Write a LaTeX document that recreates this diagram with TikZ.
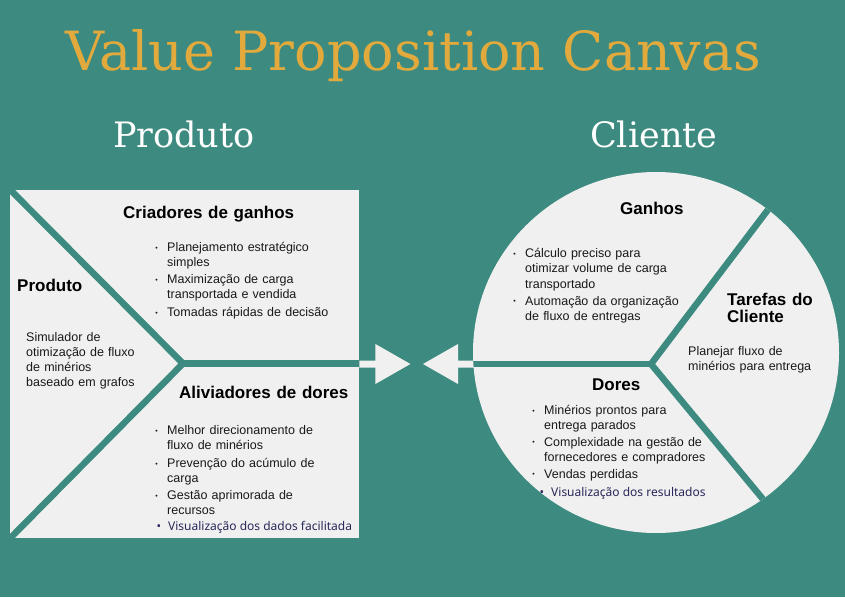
\documentclass[tikz,border=0pt]{standalone}
\usepackage{fontspec}
\setmainfont{Liberation Sans}
\newfontfamily\titlefont{DejaVu Serif}
\newfontfamily\vizfont{Noto Sans}
\usetikzlibrary{calc,shapes.geometric}
\definecolor{vpteal}{HTML}{3D8B80}
\definecolor{vplight}{HTML}{F0F0F0}
\definecolor{vpgold}{HTML}{E2AA3C}
\definecolor{vpnavy}{HTML}{27275A}
\newcommand\sbul{\leavevmode\llap{\raisebox{1.5pt}{\fontsize{7}{7}\selectfont •}\hspace{9.5pt}}}
\newcommand\bbul{\leavevmode\llap{•\hspace{7pt}}}
\begin{document}
\begin{tikzpicture}[x=1pt,y=-1pt,
  heading/.style={anchor=base west, inner sep=0pt, font=\bfseries\fontsize{17}{17}\selectfont, text=black, align=left, text width=240pt},
  body/.style={anchor=base west, inner sep=0pt, font=\fontsize{12.5}{15}\selectfont, text=black!90, align=left, text width=220pt},
  viz/.style={anchor=base west, inner sep=0pt, font=\vizfont\fontsize{12}{15}\selectfont, text=vpnavy},
  bigtitle/.style={anchor=base west, inner sep=0pt, font=\titlefont\fontsize{54}{60}\selectfont, text=vpgold},
  sidetitle/.style={anchor=base west, inner sep=0pt, font=\titlefont\fontsize{35}{40}\selectfont, text=white},
  sep/.style={draw=vpteal, line width=6.5pt},
  pointer/.style={fill=vplight}]
\fill[vpteal] (0,0) rectangle (845,597);
\useasboundingbox (0,0) rectangle (845,597);

\node[bigtitle] (title) at (65,70) {Value Proposition Canvas};
\node[sidetitle] (lprod) at (113,147) {Produto};
\node[sidetitle] (lcli) at (590,147) {Cliente};

% product box
\node[fill=vplight, minimum width=349pt, minimum height=348.5pt, inner sep=0pt, anchor=north west] (pbox) at (10,189.5) {};
\coordinate (pv) at (183,363.5);
\draw[sep] (pbox.north west) -- (pv) -- (pbox.south west);
\draw[sep] (pv) -- (pv -| pbox.east);

% arrows
\coordinate (la) at (pbox.east |- 0,364);
\coordinate (ra) at (477,364);
\fill[pointer] (la) ++(0,-3.5) -- ++(16,0) -- ++(0,-16.5) -- ++(35,20) -- ++(-35,20) -- ++(0,-16.5) -- ++(-16,0) -- cycle;
\fill[pointer] (ra) ++(0,-3.5) -- ++(-19,0) -- ++(0,-16.5) -- ++(-35,20) -- ++(35,20) -- ++(0,-16.5) -- ++(19,0) -- cycle;

% customer circle
\node[ellipse, fill=vplight, minimum width=366pt, minimum height=361pt, inner sep=0pt] (cc) at (656,352.5) {};
\coordinate (cv) at (651,364);
\begin{scope}
  \clip (cc.center) ellipse[x radius=183pt, y radius=180.5pt];
  \draw[sep] (cv) -- ++(-200,0);
  \draw[sep] ($(cv)+(174,-229.5)$) -- (cv) -- ($(cv)+(166.5,201)$);
\end{scope}

% product texts
\node[heading] (cg) at (123,218) {Criadores de ganhos};
\node[body] (cgl) at (167,251.5) {\sbul Planejamento estratégico\\ simples\\[2pt] \sbul Maximização de carga\\ transportada e vendida\\[3pt] \sbul Tomadas rápidas de decisão};
\node[heading] (pr) at (17,291.5) {Produto};
\node[body] (prd) at (26,341.5) {Simulador de\\ otimização de fluxo\\ de minérios\\ baseado em grafos};
\node[heading] (ad) at (179,398) {Aliviadores de dores};
\node[body] (adl) at (167,434.5) {\sbul Melhor direcionamento de\\ fluxo de minérios\\[3pt] \sbul Prevenção do acúmulo de\\ carga\\[2pt] \sbul Gestão aprimorada de\\ recursos};
\node[viz] (adv) at (168,530.5) {\bbul Visualização dos dados facilitada};

% customer texts
\node[heading] (gh) at (620,214.5) {Ganhos};
\node[body] (ghl) at (525,257.5) {\sbul Cálculo preciso para\\ otimizar volume de carga\\[0.5pt] transportado\\[2pt] \sbul Automação da organização\\ de fluxo de entregas};
\node[heading, text width=100pt] (tc) at (727,305.5) {Tarefas do\\ Cliente};
\node[body] (tcd) at (688,355.5) {Planejar fluxo de\\ minérios para entrega};
\node[heading] (dr) at (592,390) {Dores};
\node[body] (drl) at (544,414.5) {\sbul Minérios prontos para\\ entrega parados\\[1.5pt] \sbul Complexidade na gestão de\\ fornecedores e compradores\\[2pt] \sbul Vendas perdidas};
\node[viz] (drv) at (551,496.5) {\bbul Visualização dos resultados};
\end{tikzpicture}
\end{document}
